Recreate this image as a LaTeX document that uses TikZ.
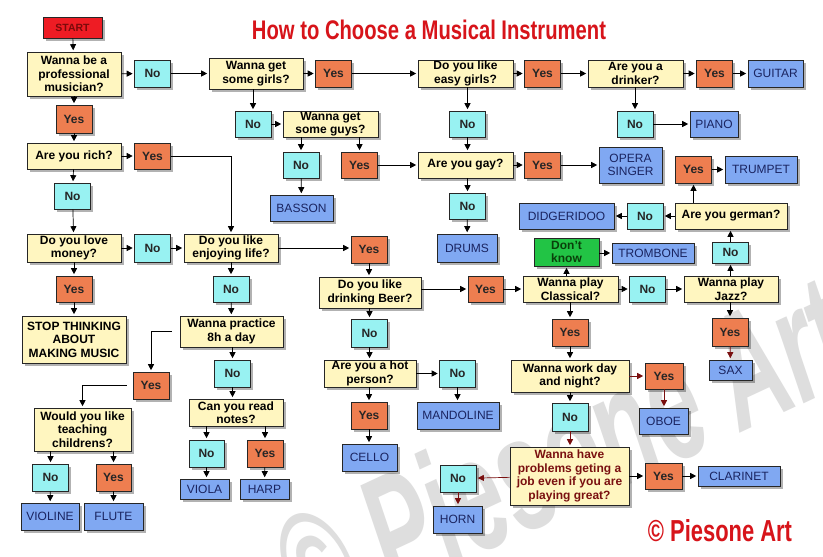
\documentclass[tikz,border=0pt]{standalone}
\usepackage{fontspec}
\setmainfont{Liberation Sans}
\usetikzlibrary{arrows.meta,shadows,calc}
\definecolor{qcol}{HTML}{FFF6C0}
\definecolor{nocol}{HTML}{98F2F2}
\definecolor{yescol}{HTML}{EE7E50}
\definecolor{instcol}{HTML}{80A8F2}
\definecolor{instxt}{HTML}{1A2460}
\definecolor{startcol}{HTML}{EE1C24}
\definecolor{starttxt}{HTML}{7A0A0A}
\definecolor{dkcol}{HTML}{22C445}
\definecolor{dktxt}{HTML}{0A400A}
\definecolor{titlecol}{HTML}{D7141A}
\definecolor{darr}{HTML}{7A1010}
\newcommand\qfont{\fontsize{12}{13.5}\selectfont\bfseries}
\newcommand\ifont{\fontsize{12}{13.5}\selectfont}
\tikzset{
  box/.style={draw=black!85, line width=0.6pt, inner sep=1pt, align=center, font=\qfont,
    drop shadow={shadow xshift=2.5pt, shadow yshift=-2.5pt, fill=black, opacity=0.3}},
  q/.style={box, fill=qcol, minimum width=94pt, minimum height=27pt},
  yesb/.style={box, fill=yescol, text=black!85, minimum width=36pt, minimum height=27pt},
  nob/.style={box, fill=nocol, text=black!85, minimum width=36pt, minimum height=27pt},
  inst/.style={box, fill=instcol, font=\ifont, text=instxt, minimum height=27pt},
  arr/.style={-{Triangle[length=6pt,width=6pt]}, line width=0.7pt, shorten >=1.5pt},
  arrd/.style={arr, draw=darr, color=darr},
}
\begin{document}
\begin{tikzpicture}[x=1pt,y=-1pt]
\fill[white] (0,0) rectangle (823,557);
\useasboundingbox (0,0) rectangle (823,557);

% watermark (behind)
\begin{scope}
\clip (0,0) rectangle (823,557);
\node[rotate=25, text=black!13, inner sep=0] (wm) at (562,452) {\resizebox{610pt}{118pt}{\itshape\bfseries © Piesone Art}};
\end{scope}

% title and signature
\node[text=titlecol, inner sep=0] (title) at (429,29.5) {\resizebox{354pt}{19.5pt}{\bfseries How to Choose a Musical Instrument}};
\node[text=titlecol, inner sep=0] (sign) at (720,531) {\resizebox{144pt}{22pt}{\bfseries © Piesone Art}};

% nodes
\node[box, fill=startcol, text=starttxt, minimum width=59pt, minimum height=21pt, font=\fontsize{10.5}{12}\selectfont\bfseries] (start) at (72.5,27.5) {START};
\node[q, minimum height=44pt] (q1) at (74,74) {Wanna be a\\professional\\musician?};
\node[nob] (no1) at (152.5,73.5) {No};
\node[q, minimum height=31pt] (q2) at (256,73.5) {Wanna get\\some girls?};
\node[yesb] (yes2) at (333.5,73.5) {Yes};
\node[q, minimum width=95pt] (q3) at (465.5,73.5) {Do you like\\easy girls?};
\node[yesb] (yes3) at (542.5,73.5) {Yes};
\node[q, minimum width=95pt] (q4) at (635.5,73.5) {Are you a\\drinker?};
\node[yesb] (yes4) at (714.5,73.5) {Yes};
\node[inst, minimum width=55pt] (guitar) at (775.5,73.5) {GUITAR};

\node[yesb, minimum height=28pt] (yes1) at (74,119) {Yes};
\node[nob, minimum height=26pt] (no2) at (253,124) {No};
\node[q, minimum width=95pt, minimum height=26pt] (q5) at (330.5,124) {Wanna get\\some guys?};
\node[nob, minimum height=26pt] (no3) at (467.5,124) {No};
\node[nob, minimum height=26pt] (no4) at (635,124) {No};
\node[inst, minimum width=48pt, minimum height=26pt] (piano) at (714,124) {PIANO};

\node[q, minimum height=26pt] (q6) at (74,156) {Are you rich?};
\node[yesb, minimum height=26pt] (yes5) at (152.5,156) {Yes};
\node[nob, minimum height=26pt] (no5) at (301,165) {No};
\node[yesb, minimum height=26pt] (yes6) at (359.5,165) {Yes};
\node[q, minimum width=95pt, minimum height=26pt] (q7) at (465.5,165) {Are you gay?};
\node[yesb, minimum height=26pt] (yes7) at (542.5,165) {Yes};
\node[inst, minimum width=63pt, minimum height=36pt] (opera) at (630.5,165) {OPERA\\SINGER};
\node[yesb] (yes8) at (693.5,169.5) {Yes};
\node[inst, minimum width=72pt] (trumpet) at (761,169.5) {TRUMPET};

\node[nob, minimum height=26pt] (no6) at (72.5,196) {No};
\node[inst, minimum width=63pt, minimum height=26pt] (basson) at (301.5,208) {BASSON};
\node[nob, minimum height=26pt] (no7) at (467.5,206) {No};
\node[inst, minimum width=95pt, minimum height=26pt] (didg) at (566.5,216) {DIDGERIDOO};
\node[nob, minimum height=26pt] (no8) at (645,216) {No};
\node[q, minimum width=112pt, minimum height=26pt] (q8) at (731,216) {Are you german?};

\node[q, minimum height=28pt] (q9) at (74,248) {Do you love\\money?};
\node[nob, minimum height=28pt] (no9) at (152.5,248) {No};
\node[q, minimum height=28pt] (q10) at (231,248) {Do you like\\enjoying life?};
\node[yesb] (yes9) at (369,249.5) {Yes};
\node[inst, minimum width=60pt, minimum height=28pt] (drums) at (467,248) {DRUMS};
\node[box, fill=dkcol, text=dktxt, minimum width=65pt, minimum height=28pt] (dk) at (566.5,252) {Don't\\know};
\node[inst, minimum width=82pt, minimum height=20pt] (trombone) at (653,253) {TROMBONE};
\node[nob, minimum height=21pt] (no10) at (730.5,252.5) {No};

\node[yesb, minimum height=26pt] (yes10) at (74,289) {Yes};
\node[nob, minimum height=26pt] (no11) at (231,289) {No};
\node[q, minimum width=102pt, minimum height=31pt] (q11) at (370,292.5) {Do you like\\drinking Beer?};
\node[yesb, minimum width=35pt, minimum height=26pt] (yes11) at (485.5,289) {Yes};
\node[q, minimum width=95pt, minimum height=26pt] (q12) at (570.5,289) {Wanna play\\Classical?};
\node[nob, minimum height=26pt] (no12) at (647.5,289) {No};
\node[q, minimum height=26pt] (q13) at (731,289) {Wanna play\\Jazz?};

\node[q, minimum width=104pt, minimum height=47pt] (stop) at (74,339.5) {STOP THINKING\\ABOUT\\MAKING MUSIC};
\node[q, minimum width=103pt, minimum height=31pt] (q14) at (231.5,331.5) {Wanna practice\\8h a day};
\node[nob, minimum height=28pt] (no13) at (369.5,333) {No};
\node[yesb] (yes12) at (570,332.5) {Yes};
\node[yesb, minimum height=28pt] (yes13) at (730,332) {Yes};

\node[nob] (no14) at (232.5,373.5) {No};
\node[q, minimum width=92pt] (q15) at (370,373.5) {Are you a hot\\person?};
\node[nob] (no15h) at (457.5,373.5) {No};
\node[q, minimum width=118pt, minimum height=32pt] (q18) at (570,376) {Wanna work day\\and night?};
\node[yesb, minimum width=38pt, minimum height=26pt] (yes17) at (664,376) {Yes};
\node[inst, minimum width=43pt, minimum height=20pt] (sax) at (730.5,370) {SAX};

\node[yesb] (yes14) at (151,385.5) {Yes};
\node[q, minimum width=97pt, minimum height=43pt] (q16) at (82.5,429.5) {Would you like\\teaching\\childrens?};
\node[q] (q17) at (236,412.5) {Can you read\\notes?};
\node[yesb] (yes18) at (369,415.5) {Yes};
\node[inst, minimum width=82pt] (mandoline) at (458,415.5) {MANDOLINE};
\node[nob, minimum height=28pt] (no18) at (570,417) {No};
\node[inst, minimum width=49pt, minimum height=26pt] (oboe) at (663.5,421) {OBOE};

\node[nob, minimum width=35pt] (no16) at (206.5,453.5) {No};
\node[yesb] (yes16) at (265,453.5) {Yes};
\node[inst, minimum width=55pt] (cello) at (369.5,457.5) {CELLO};
\node[q, minimum width=119pt, minimum height=58pt, text=darr] (q19) at (569.5,476) {Wanna have\\problems geting a\\job even if you are\\playing great?};
\node[nob] (no19) at (458,478.5) {No};
\node[yesb, minimum width=37pt, minimum height=26pt] (yes19) at (663.5,476) {Yes};
\node[inst, minimum width=82pt, minimum height=20pt] (clarinet) at (739,476) {CLARINET};

\node[nob] (no15) at (50.5,477.5) {No};
\node[yesb, minimum width=35pt] (yes15) at (113.5,477.5) {Yes};
\node[inst, minimum width=49pt, minimum height=20pt] (viola) at (204.5,489) {VIOLA};
\node[inst, minimum width=49pt, minimum height=20pt] (harp) at (264.5,489) {HARP};
\node[inst, minimum width=58pt] (violine) at (50,516.5) {VIOLINE};
\node[inst, minimum width=59pt] (flute) at (113.5,516.5) {FLUTE};
\node[inst, minimum width=49pt] (horn) at (457.5,519.5) {HORN};

% connectors (black)
\draw[arr] (start) -- (q1);
\draw[arr] (q1) -- (no1);
\draw[arr] (no1) -- (q2);
\draw[arr] (q2) -- (yes2);
\draw[arr] (yes2) -- (q3);
\draw[arr] (q3) -- (yes3);
\draw[arr] (yes3) -- (q4);
\draw[arr] (q4) -- (yes4);
\draw[arr] (yes4) -- (guitar);
\draw[arr] (q1) -- (yes1);
\draw[arr] (yes1) -- (q6);
\draw[arr] (q6) -- (yes5);
\draw[arr] (yes5.east) -| (q10.north);
\draw[arr] (q6) -- (no6);
\draw[arr] (no6) -- (q9);
\draw[arr] (q9) -- (no9);
\draw[arr] (no9) -- (q10);
\draw[arr] (q9) -- (yes10);
\draw[arr] (yes10) -- (stop);
\draw[arr] (q10.east) -- (yes9.west |- q10.east);
\draw[arr] (q10) -- (no11);
\draw[arr] (no11) -- (q14);
\draw[arr, shorten <=8pt] (q14.west) -| (yes14.north);
\draw[arr] (q14.south -| no14) -- (no14);
\draw[arr] (no14) -- (q17.north -| no14);
\draw[arr, shorten <=6pt] (yes14.west) -| (q16.north);
\draw[arr] (q16.south -| no15) -- (no15);
\draw[arr] (q16.south -| yes15) -- (yes15);
\draw[arr] (no15) -- (violine);
\draw[arr] (yes15) -- (flute);
\draw[arr] (q17.south -| no16) -- (no16);
\draw[arr] (q17.south -| yes16) -- (yes16);
\draw[arr] (no16.south) -- (viola.north -| no16.south);
\draw[arr] (yes16) -- (harp);
\draw[arr] (q2.south -| no2) -- (no2);
\draw[arr] (no2) -- (q5);
\draw[arr] (q5.south -| no5) -- (no5);
\draw[arr] (q5.south -| yes6) -- (yes6);
\draw[arr] (no5) -- (basson);
\draw[arr] (yes6) -- (q7);
\draw[arr] (q3.south -| no3) -- (no3);
\draw[arr] (no3) -- (q7.north -| no3);
\draw[arr] (q7) -- (yes7);
\draw[arr] (yes7) -- (opera);
\draw[arr] (q7.south -| no7) -- (no7);
\draw[arr] (no7) -- (drums);
\draw[arr] (q4.south -| no4) -- (no4);
\draw[arr] (no4) -- (piano);
\draw[arr] (yes9.south) -- (q11.north -| yes9.south);
\draw[arr] (q11.east |- yes11) -- (yes11);
\draw[arr] (yes11) -- (q12);
\draw[arr] (q12) -- (no12);
\draw[arr] (no12) -- (q13);
\draw[arr] (q13.north -| no10) -- (no10);
\draw[arr] (no10) -- (q8.south -| no10);
\draw[arr] (q8) -- (no8);
\draw[arr] (no8) -- (didg);
\draw[arr] (q8.north -| yes8) -- (yes8);
\draw[arr] (yes8) -- (trumpet);
\draw[arr] (q12.north -| dk) -- (dk);
\draw[arr] (dk.east |- trombone) -- (trombone);
\draw[arr] (q12.south -| yes12) -- (yes12);
\draw[arr] (yes12) -- (q18.north -| yes12);
\draw[arr] (q13.south -| yes13) -- (yes13);
\draw[arr] (q11.south -| no13) -- (no13);
\draw[arr] (no13) -- (q15.north -| no13);
\draw[arr] (q15.east |- no15h) -- (no15h);
\draw[arr] (q15.south -| yes18) -- (yes18);
\draw[arr] (yes18) -- (cello.north -| yes18);
\draw[arr] (no15h.south) -- (mandoline.north -| no15h.south);
\draw[arr] (q18.south -| no18) -- (no18);
\draw[arr] (q19) -- (yes19);
\draw[arr] (yes19) -- (clarinet);
% connectors (dark red)
\draw[arrd] (yes13) -- (sax);
\draw[arrd] (q18) -- (yes17);
\draw[arrd] (yes17.south) -- (oboe.north -| yes17.south);
\draw[arrd] (no18) -- (q19.north -| no18);
\draw[arrd] (q19) -- (no19);
\draw[arrd] (no19) -- (horn.north -| no19);
\end{tikzpicture}
\end{document}
